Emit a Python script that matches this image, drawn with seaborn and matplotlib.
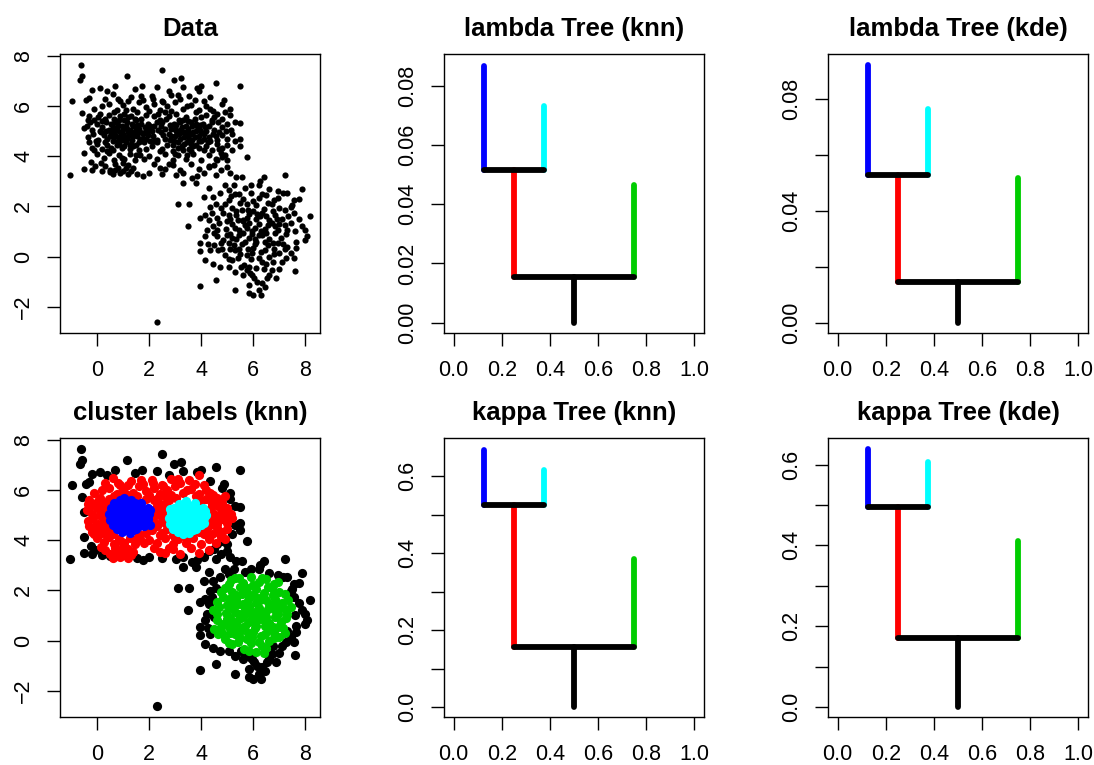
import numpy as np
import pandas as pd
import matplotlib
matplotlib.use("Agg")
import matplotlib.pyplot as plt
import seaborn as sns

# points, grouped by the cluster label they get in the knn panel
blue_pts = [(0.45,5.05),(0.5,4.8),(0.55,5.3),(0.6,4.6),(0.65,5.5),(0.7,5.0),(0.75,4.45),(0.8,5.25),
            (0.85,4.75),(0.9,5.6),(0.95,4.35),(1.0,5.1),(1.0,4.9),(1.05,5.7),(1.1,4.55),(1.15,5.35),
            (1.2,4.8),(1.25,5.05),(1.25,4.3),(1.3,5.6),(1.35,4.65),(1.4,5.2),(1.45,4.95),(1.5,4.45),
            (1.5,5.45),(1.6,5.1),(1.65,4.7),(1.7,5.3),(1.75,4.9),(1.8,4.55),(1.85,5.15),(1.95,4.85),
            (2.0,5.05),(2.05,4.6),(0.6,5.15),(1.3,4.95),(0.9,4.95),(1.55,4.8),(1.1,5.2),(0.8,4.6),
            (1.95,5.3),(1.4,4.4),
            (0.55,4.95),(0.65,4.75),(0.7,5.35),(0.75,5.1),(0.85,4.5),(0.85,5.45),(0.95,5.2),(0.95,4.65),
            (1.05,4.4),(1.05,5.45),(1.15,4.7),(1.15,5.1),(1.2,5.55),(1.3,4.5),(1.35,5.3),(1.4,4.8),
            (1.45,5.5),(1.55,5.25),(1.6,4.55),(1.65,4.95),(1.7,5.5),(1.75,4.7),(1.85,4.95),(1.9,4.7),
            (2.05,5.2),(1.2,4.95),(1.0,4.75),(1.5,5.05),(0.7,4.85),(1.25,4.45)]
cyan_pts = [(2.75,4.9),(2.8,4.65),(2.85,5.1),(2.9,4.45),(2.95,5.3),(3.0,4.8),(3.05,5.0),(3.1,4.35),
            (3.15,5.45),(3.2,4.7),(3.25,5.15),(3.3,4.95),(3.35,4.5),(3.4,5.55),(3.45,4.8),(3.5,5.1),
            (3.55,4.3),(3.6,5.35),(3.65,4.65),(3.7,4.95),(3.75,5.5),(3.8,4.45),(3.85,5.2),(3.9,4.8),
            (3.95,5.05),(4.0,4.6),(4.05,5.3),(4.1,4.9),(4.2,5.0),(3.3,4.25),(3.6,4.5),(3.2,5.35),
            (3.5,4.95),(3.0,5.1),(3.8,5.0),
            (2.8,5.25),(2.85,4.8),(2.95,4.6),(3.05,5.25),(3.1,4.55),(3.15,4.9),(3.2,5.05),(3.25,4.4),
            (3.3,5.45),(3.35,4.75),(3.4,5.2),(3.45,4.55),(3.5,5.4),(3.55,4.7),(3.6,4.9),(3.65,5.2),
            (3.7,4.4),(3.75,4.75),(3.8,5.3),(3.9,4.6),(3.95,5.25),(4.0,4.95),(4.1,4.7),(4.15,5.15),
            (3.4,4.95)]
red_pts = [(0.3,6.3),(0.6,6.5),(0.9,6.2),(1.3,6.35),(1.75,6.25),(2.1,6.4),(2.5,6.2),(2.85,6.45),
           (3.2,6.3),(3.55,6.4),(3.9,6.6),(4.1,6.2),
           (-0.1,5.9),(0.2,6.0),(0.45,6.1),(0.75,5.85),(1.0,6.05),(1.4,5.9),(1.6,6.15),(1.9,5.95),
           (2.2,6.1),(2.4,5.85),(2.7,6.0),(3.0,6.15),(3.3,5.9),(3.6,6.05),(3.9,5.85),(4.2,6.0),
           (4.45,5.8),(2.55,6.15),
           (-0.3,5.6),(-0.1,5.45),(0.1,5.7),(0.3,5.5),(2.2,5.6),(2.4,5.45),(2.6,5.75),(2.65,5.5),
           (4.2,5.65),(4.4,5.45),(4.6,5.7),(4.8,5.5),(4.9,5.75),(0.2,5.4),(2.35,5.7),(4.5,5.55),
           (1.9,5.65),(3.05,5.7),(3.8,5.75),(0.05,5.55),
           (-0.4,5.2),(-0.2,5.05),(0.0,5.3),(0.2,5.15),(0.35,5.35),(2.2,5.2),(2.35,5.05),(2.5,5.35),
           (2.6,5.1),(4.3,5.2),(4.5,5.05),(4.65,5.35),(4.8,5.15),(5.0,5.3),(5.15,5.05),(0.1,5.0),
           (2.45,5.2),(4.4,5.35),(4.95,5.0),(-0.25,5.35),
           (-0.35,4.75),(-0.15,4.9),(0.05,4.65),(0.25,4.85),(0.4,4.7),(2.15,4.8),(2.3,4.65),(2.45,4.95),
           (2.6,4.7),(4.3,4.75),(4.45,4.9),(4.6,4.65),(4.8,4.85),(5.0,4.7),(5.2,4.9),(0.15,4.95),
           (2.55,4.85),(4.7,4.95),(-0.05,4.6),(4.35,4.6),
           (-0.2,4.35),(0.0,4.5),(0.2,4.3),(0.4,4.45),(0.6,4.25),(2.1,4.4),(2.3,4.55),(2.5,4.3),
           (2.7,4.45),(2.9,4.2),(4.2,4.4),(4.4,4.25),(4.6,4.5),(4.8,4.35),(5.0,4.45),(1.9,4.3),
           (1.6,4.25),(3.6,4.2),(3.9,4.35),(0.3,4.55),
           (0.0,4.1),(0.25,3.95),(0.45,4.15),(0.65,3.85),(0.85,4.05),(1.05,3.9),(1.25,4.1),(1.45,3.85),
           (2.0,4.0),(2.3,3.9),(2.6,4.1),(2.9,3.85),(3.1,4.05),(3.4,3.9),(3.7,4.1),(4.0,3.85),
           (4.3,4.05),(4.55,3.9),(4.75,4.15),(1.65,4.05),
           (0.3,3.6),(0.5,3.45),(0.7,3.7),(0.9,3.35),(1.1,3.55),(1.3,3.4),(1.0,3.75),(0.6,3.3),
           (2.2,3.7),(2.6,3.5),(2.9,3.65),(3.2,3.45),(3.6,3.7),(3.9,3.5),(4.3,3.6),(1.2,3.65),
           (0.45,5.65),(0.55,4.35),(0.35,5.0),(0.4,4.2),(0.65,5.75),(0.8,6.3),(1.1,5.85),(1.2,6.2),
           (1.55,5.75),(1.7,6.4),(2.0,5.8),(2.15,6.3),(2.3,5.35),(2.1,5.0),(2.2,4.6),(2.4,4.2),
           (2.75,5.6),(2.85,5.8),(3.1,6.45),(3.45,6.0),(3.75,6.25),(4.0,5.55),(4.35,5.9),(4.25,4.55),
           (4.55,4.8),(4.7,4.3),(4.9,4.05),(4.1,4.25),(3.45,4.05),(3.0,4.1),(2.75,3.7),(2.4,3.55),
           (1.5,4.05),(1.8,3.9),(1.4,3.55),(0.8,3.55),(0.15,3.75),(-0.1,4.25),(-0.3,4.55),(-0.35,5.45),
           (0.95,3.95),(1.2,3.3),(1.0,3.4),(0.7,3.45)]
green_pts = [(5.3,2.5),(5.6,2.3),(5.9,2.55),(6.2,2.35),(6.5,2.45),(6.8,2.25),(5.05,2.25),(6.0,2.2),
             (4.9,2.1),(5.2,1.95),(5.5,2.15),(5.8,1.85),(6.1,2.05),(6.4,1.9),(6.7,2.1),(7.0,1.95),
             (7.2,1.85),(5.35,1.8),(6.55,2.15),
             (4.6,1.55),(4.85,1.75),(5.1,1.5),(5.35,1.65),(5.6,1.45),(5.85,1.7),(6.1,1.5),(6.35,1.75),
             (6.6,1.45),(6.85,1.65),(7.1,1.5),(7.35,1.6),(5.0,1.4),(6.0,1.8),
             (4.45,1.2),(4.7,1.35),(4.95,1.1),(5.2,1.3),(5.45,1.05),(5.7,1.25),(5.95,1.0),(6.2,1.3),
             (6.45,1.1),(6.7,1.35),(6.95,1.05),(7.2,1.25),(7.45,1.35),(5.6,1.4),(6.3,1.0),
             (4.6,0.8),(4.85,0.65),(5.1,0.9),(5.35,0.7),(5.6,0.95),(5.85,0.75),(6.1,0.6),(6.35,0.85),
             (6.6,0.7),(6.85,0.95),(7.05,0.75),(7.25,0.9),(5.95,0.9),(6.5,0.95),
             (4.5,0.45),(4.8,0.3),(5.05,0.55),(5.3,0.25),(5.55,0.5),(5.8,0.3),(6.05,0.5),(6.3,0.2),
             (6.55,0.45),(6.8,0.3),(7.0,0.15),(7.15,0.5),(6.0,0.35),
             (4.9,0.05),(5.2,-0.15),(5.5,0.1),(5.65,-0.35),(5.9,-0.1),(6.1,-0.45),(6.35,-0.2),(6.6,0.0),
             (6.4,-0.5),(5.4,-0.05),(6.8,0.1),
             (5.75,1.15),(6.25,1.6),(5.25,0.45),(6.75,0.55),(5.55,1.85),(6.05,0.7),(5.0,0.85),(6.9,1.5),
             (5.15,2.4),(5.45,2.5),(5.75,2.1),(6.35,2.5),(6.95,2.35),(4.75,1.95),(5.05,1.65),(5.4,1.45),
             (5.75,1.55),(6.15,1.7),(6.5,1.6),(6.75,1.8),(7.0,1.3),(4.6,1.05),(5.3,1.15),(5.85,1.35),
             (6.05,1.15),(6.55,1.25),(6.85,1.2),(7.3,1.05),(4.75,0.55),(5.2,0.75),(5.45,0.85),(5.7,0.6),
             (6.2,0.85),(6.45,0.6),(6.95,0.55),(7.2,0.3),(4.65,0.25),(5.1,0.3),(5.45,0.3),(5.95,0.15),
             (6.45,0.25),(5.05,-0.1),(5.75,0.05),(6.2,-0.05),(6.5,-0.3),(5.85,-0.4)]
black_pts = [(-1.05,3.25),(-0.96,6.2),(-0.6,7.63),(-0.65,7.05),(-0.58,7.2),(1.15,7.2),(2.5,7.43),
             (1.73,6.8),(2.95,7.03),(3.23,7.13),(4.55,6.92),(5.48,6.8),(4.87,6.23),(5.74,3.98),
             (1.77,3.2),(-0.51,3.5),(3.3,2.94),(3.1,2.1),(3.53,2.1),(3.5,1.2),(3.8,2.94),(3.97,-1.19),
             (4.58,-0.93),(5.31,-1.33),(5.83,-1.46),(6.0,-1.53),(6.31,-1.53),(2.3,-2.63),(7.2,3.25),
             (7.85,2.7),(8.17,1.6),(8.07,0.8),(8.0,0.66),(7.6,-0.56),(6.89,-0.84),(3.97,0.23),
             (3.97,0.56),(4.14,-0.13),
             (5.48,4.42),(5.48,4.7),(5.31,5.37),(5.48,5.33),(5.1,5.64),
             (-0.51,5.12),(-0.58,5.71),(-0.49,4.12),(-0.22,3.79),(-0.06,3.62),(-0.41,6.25),(-0.19,6.65),
             (0.13,6.72),(-0.32,6.32),(0.51,3.39),(3.3,6.75),(3.84,6.72),(2.75,6.6),
             (4.61,3.86),(4.8,3.99),(4.99,3.59),(5.12,3.33),(5.35,3.19),(4.1,3.33),(4.29,3.59),(4.48,3.66),
             (4.1,2.39),(4.29,2.72),(4.46,2.39),(3.97,1.53),(4.16,1.66),(4.35,1.99),(4.74,2.52),
             (5.06,2.66),(5.25,2.86),(5.57,3.19),(6.21,2.86),(6.4,3.19),(6.27,3.0),
             (7.3,2.52),(7.55,2.26),(7.75,2.29),(7.43,1.99),(7.55,1.73),(7.87,1.2),(8.0,1.06),
             (7.62,0.33),(7.43,0.13),(7.55,-0.07),(6.72,-0.53),(6.53,-0.86),(6.34,-1.06),(6.15,-1.0),
             (6.02,-0.86),(5.86,-0.66),(5.74,-0.53),(4.74,-0.4),(5.06,-0.4),(4.35,0.27),(4.16,0.8),
             (4.23,1.06),(4.48,0.93),(6.21,-1.33),(5.83,-1.13),(5.51,-0.4),(7.1,-0.2),(7.3,0.4),
             (6.95,2.6),(7.6,1.0),(4.3,1.45),(6.6,-0.75),(5.6,-0.75),
             (4.4,1.75),(4.55,2.1),(4.25,0.5),(4.45,-0.3),(5.3,-0.6),(5.95,-0.75),(6.45,-1.2),(6.75,-0.2),
             (7.0,-0.5),(7.25,-0.05),(7.65,0.6),(7.75,1.5),(7.5,2.05),(7.15,2.55),(6.6,2.7),(5.9,2.85),
             (5.7,2.75),(4.9,2.85),(4.55,3.25),(3.85,3.2),(3.65,3.15),(4.75,3.45),(5.0,3.85),(5.2,4.25),
             (5.3,4.6),(5.1,5.9),(4.8,6.1),(4.35,6.35),(4.0,6.8),(2.3,6.75),(1.45,6.7),(0.7,6.8),
             (0.4,6.6),(-0.2,3.45),(0.2,3.4),(1.55,3.3),(2.0,3.35),(2.5,3.3),(3.05,3.25),(3.3,3.35)]

groups = [("black", black_pts), ("red", red_pts), ("#00CD00", green_pts),
          ("blue", blue_pts), ("cyan", cyan_pts)]

# tree heights: bottom split, top split, blue, cyan, green branch tips
tree_titles = ["lambda Tree (knn)", "lambda Tree (kde)", "kappa Tree (knn)", "kappa Tree (kde)"]
split_low = [0.0153, 0.0147, 0.155, 0.171]
split_high = [0.0516, 0.0530, 0.5246, 0.4953]
blue_top = [0.0868, 0.0923, 0.669, 0.638]
cyan_top = [0.0732, 0.0767, 0.617, 0.607]
green_top = [0.0466, 0.0519, 0.384, 0.411]
tree_ylims = [(-0.0035, 0.0907), (-0.0036, 0.0962), (-0.026, 0.700), (-0.0248, 0.666)]
tree_yticks = [[0, 0.02, 0.04, 0.06, 0.08], [0, 0.02, 0.04, 0.06, 0.08],
               [0, 0.1, 0.2, 0.3, 0.4, 0.5, 0.6], [0, 0.1, 0.2, 0.3, 0.4, 0.5, 0.6]]
tree_ylabels = [["0.00", "0.02", "0.04", "0.06", "0.08"], ["0.00", "", "0.04", "", "0.08"],
                ["0.0", "", "0.2", "", "0.4", "", "0.6"], ["0.0", "", "0.2", "", "0.4", "", "0.6"]]

sns.set_style("white")
plt.rcParams['font.family'] = ['Liberation Sans', 'DejaVu Sans']
plt.rcParams['axes.edgecolor'] = 'black'
plt.rcParams['axes.linewidth'] = 1.0
plt.rcParams['text.color'] = 'black'

fig = plt.figure(figsize=(10.94, 7.65), dpi=100)
lefts = [60/1094, 444/1094, 828/1094]
bottoms = [(765-333)/765, (765-717)/765]
w, h = 260/1094, 279/765
axes = [[fig.add_axes([l, b, w, h]) for l in lefts] for b in bottoms]


def style_axis(ax, title):
    ax.set_title(title, fontsize=18.5, fontweight='bold', pad=13, color='black')
    ax.tick_params(axis='both', direction='out', length=9.5, width=1.0, labelsize=15.5,
                   colors='black', left=True, bottom=True)
    ax.tick_params(axis='x', pad=10)
    ax.tick_params(axis='y', pad=9)
    for lab in ax.get_yticklabels():
        lab.set_rotation(90)
        lab.set_va('center')
    for sp in ax.spines.values():
        sp.set_visible(True)
        sp.set_color('black')
    ax.set_xlabel('')
    ax.set_ylabel('')


# Data panel
ax = axes[0][0]
all_pts = pd.DataFrame([p for _, pts in groups for p in pts], columns=['x', 'y'])
sns.scatterplot(data=all_pts, x='x', y='y', color='black', s=20, linewidth=0, ax=ax)
ax.set_xlim(-1.42, 8.56)
ax.set_ylim(-3.05, 8.08)
ax.set_xticks([0, 2, 4, 6, 8])
ax.set_yticks([-2, 0, 2, 4, 6, 8])
ax.set_yticklabels(['\u22122', '0', '2', '4', '6', '8'])
style_axis(ax, "Data")

# cluster labels panel
ax = axes[1][0]
for col, pts in groups:
    df = pd.DataFrame(pts, columns=['x', 'y'])
    sns.scatterplot(data=df, x='x', y='y', color=col, s=44, linewidth=0, ax=ax)
ax.set_xlim(-1.42, 8.56)
ax.set_ylim(-3.05, 8.08)
ax.set_xticks([0, 2, 4, 6, 8])
ax.set_yticks([-2, 0, 2, 4, 6, 8])
ax.set_yticklabels(['\u22122', '0', '2', '4', '6', '8'])
style_axis(ax, "cluster labels (knn)")

# trees
tree_axes = [axes[0][1], axes[0][2], axes[1][1], axes[1][2]]
for i, ax in enumerate(tree_axes):
    kw = dict(lw=4.2, solid_capstyle='round')
    ax.plot([0.25, 0.25], [split_low[i], split_high[i]], color='red', **kw)
    ax.plot([0.75, 0.75], [split_low[i], green_top[i]], color='#00CD00', **kw)
    ax.plot([0.125, 0.125], [split_high[i], blue_top[i]], color='blue', **kw)
    ax.plot([0.375, 0.375], [split_high[i], cyan_top[i]], color='cyan', **kw)
    ax.plot([0.5, 0.5], [0, split_low[i]], color='black', **kw)
    ax.plot([0.25, 0.75], [split_low[i], split_low[i]], color='black', **kw)
    ax.plot([0.125, 0.375], [split_high[i], split_high[i]], color='black', **kw)
    ax.set_xlim(-0.04, 1.04)
    ax.set_ylim(*tree_ylims[i])
    ax.set_xticks([0, 0.2, 0.4, 0.6, 0.8, 1.0])
    ax.set_xticklabels(["0.0", "0.2", "0.4", "0.6", "0.8", "1.0"])
    ax.set_yticks(tree_yticks[i])
    ax.set_yticklabels(tree_ylabels[i])
    style_axis(ax, tree_titles[i])

fig.savefig("out.png", dpi=100)
